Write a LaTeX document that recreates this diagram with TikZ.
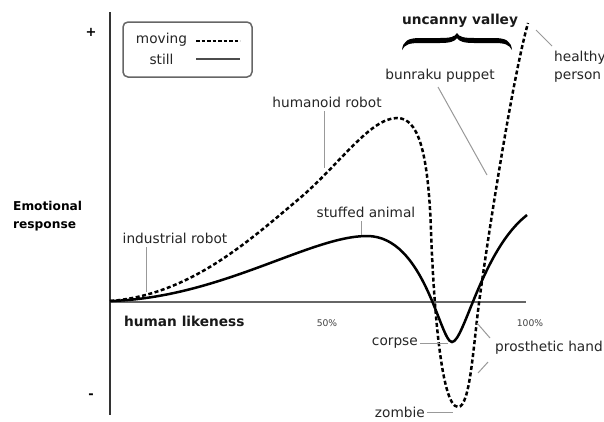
\documentclass[tikz,border=0pt]{standalone}
\usepackage{fontspec}
\setmainfont{DejaVu Sans}
\begin{document}
\begin{tikzpicture}[x=1pt,y=-1pt,
  lbl/.style={font=\fontsize{13.7}{16}\selectfont, text=black!85, inner sep=0pt},
  blbl/.style={font=\fontsize{13.7}{16}\selectfont\bfseries, text=black!90, inner sep=0pt},
  pct/.style={font=\fontsize{9.2}{11}\selectfont, text=black!75, inner sep=0pt},
  leader/.style={draw=black!40, line width=1pt},
  movingline/.style={line width=2.5pt, dash pattern=on 4pt off 2.5pt, black},
  stillline/.style={line width=2.5pt, black},
]
\useasboundingbox (0,0) rectangle (604,421);
\fill[white] (0,0) rectangle (604,421);

% axes
\coordinate (ytop) at (110,12);
\coordinate (ybot) at (110,415);
\coordinate (xl) at (110,302);
\coordinate (xr) at (526,302);
\draw[black!60, line width=2pt] (xl) -- (xr);
\draw[black!80, line width=2pt] (ytop) -- (ybot);

\node[font=\fontsize{13}{14}\selectfont\bfseries, inner sep=0pt] (plus) at (91,32) {+};
\node[font=\fontsize{13}{14}\selectfont\bfseries, inner sep=0pt] (minus) at (91,396) {-};

\node[font=\fontsize{12.2}{18}\selectfont\bfseries, align=left, inner sep=0pt, anchor=west] (emo) at (13,216) {Emotional\\response};
\node[blbl, anchor=west] (hl) at (124,321) {human likeness};
\node[pct] (p50) at (327,323) {50\%};
\node[pct] (p100) at (530,323) {100\%};

% legend
\node[draw=black!60, line width=1.5pt, rounded corners=5pt, minimum width=129pt, minimum height=55pt, inner sep=0pt] (legend) at (187.5,49.5) {};
\node[lbl] (mov) at (161.5,40) {moving};
\node[lbl] (stl) at (161.5,59) {still};
\coordinate (lm1) at (196,41);
\coordinate (lm2) at (240,41);
\coordinate (ls1) at (196,59);
\coordinate (ls2) at (240,59);
\draw[line width=2pt, dash pattern=on 3.5pt off 2pt] (lm1) -- (lm2);
\draw[black!70, line width=1.2pt] (ls1) -- (ls2);

% curves
\draw[stillline] (110,301) .. controls (220,298) and (310,236) .. (367,236)
  .. controls (425,236) and (440,342) .. (452,342)
  .. controls (464,342) and (482,250) .. (527,215);

\draw[movingline] (110,301) .. controls (190,295) and (250,240) .. (300,198)
  .. controls (338,166) and (370,118) .. (397,118)
  .. controls (418,118) and (428,150) .. (431,230)
  .. controls (433,290) and (440,407) .. (458,407)
  .. controls (470,407) and (473,349) .. (479,303)
  .. controls (487,243) and (512,80) .. (528,23);

% uncanny valley + brace
\node[blbl] (uv) at (460,21) {uncanny valley};
\fill[black] (402,50) .. controls (403,41) and (408,38) .. (420,38) -- (440,38)
  .. controls (450,38) and (455,37) .. (457,33)
  .. controls (459,37) and (464,38) .. (474,38) -- (494,38)
  .. controls (506,38) and (511,41) .. (512,50)
  .. controls (509,44.5) and (505,43) .. (494,43) -- (474,43)
  .. controls (464,43) and (459,41.5) .. (457,38)
  .. controls (455,41.5) and (450,43) .. (440,43) -- (420,43)
  .. controls (409,43) and (405,44.5) .. (402,50) -- cycle;

% labels with leaders
\node[lbl, align=left, anchor=west] (hp) at (554,67) {healthy\\[2pt]person};
\coordinate (hpa) at (536,30);
\coordinate (hpb) at (552,46);
\draw[leader] (hpa) -- (hpb);

\node[lbl] (bp) at (440,76) {bunraku puppet};
\coordinate (bpa) at (438,87);
\coordinate (bpb) at (487,175);
\draw[leader] (bpa) -- (bpb);

\node[lbl] (hr) at (327,102) {humanoid robot};
\coordinate (hra) at (324,111);
\coordinate (hrb) at (324,168);
\draw[leader] (hra) -- (hrb);

\node[lbl] (sa) at (366,212) {stuffed animal};
\coordinate (saa) at (361,221);
\coordinate (sab) at (361,235);
\draw[leader] (saa) -- (sab);

\node[lbl] (ir) at (175,238) {industrial robot};
\coordinate (ira) at (146,247);
\coordinate (irb) at (146,292);
\draw[leader] (ira) -- (irb);

\node[lbl, anchor=east] (cp) at (418,343) {corpse};
\coordinate (cpa) at (420,343);
\coordinate (cpb) at (448,343);
\draw[leader] (cpa) -- (cpb);

\node[lbl, anchor=east] (zb) at (425,412) {zombie};
\coordinate (zba) at (427,412);
\coordinate (zbb) at (453,412);
\draw[leader] (zba) -- (zbb);

\node[lbl, anchor=west] (ph) at (495,348) {prosthetic hand};
\coordinate (ph1a) at (490,338);
\coordinate (ph1b) at (477,323);
\coordinate (ph2a) at (488,362);
\coordinate (ph2b) at (478,373);
\draw[leader] (ph1a) -- (ph1b);
\draw[leader] (ph2a) -- (ph2b);
\end{tikzpicture}
\end{document}
